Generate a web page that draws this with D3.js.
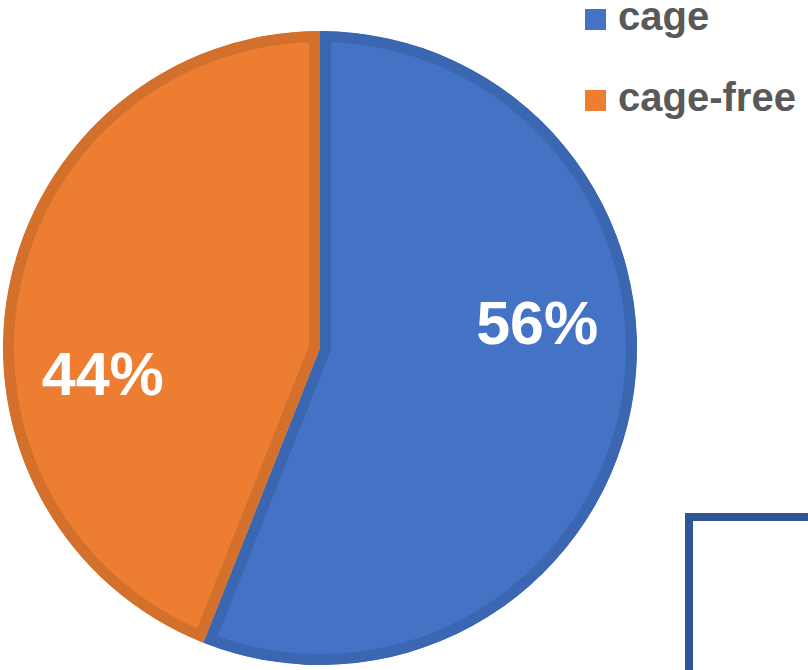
<!DOCTYPE html>
<html>
<head>
<meta charset="utf-8">
<script src="https://cdn.jsdelivr.net/npm/d3@7"></script>
<style>
  html, body { margin: 0; padding: 0; background: #fff; }
  svg { display: block; }
</style>
</head>
<body>
<div id="chart"></div>
<script>
// chart data
const categories = ["cage", "cage-free"];
const values = [56, 44];
const fills = ["#4472c4", "#ed7d31"];
const strokes = ["#3b66b2", "#d3702c"];

const width = 808, height = 670;
const cx = 320, cy = 348, radius = 317;

const svg = d3.select("#chart").append("svg")
    .attr("width", width)
    .attr("height", height);

const data = categories.map((c, i) => ({ name: c, value: values[i], i: i }));

const pie = d3.pie()
    .sort(null)
    .value(d => d.value);

const arc = d3.arc()
    .innerRadius(0)
    .outerRadius(radius);

const arcs = pie(data);

const defs = svg.append("defs");
defs.selectAll("clipPath")
    .data(arcs)
    .join("clipPath")
    .attr("id", (d, i) => "clip" + i)
    .append("path")
    .attr("d", arc);

const g = svg.append("g")
    .attr("transform", `translate(${cx},${cy})`);

// slices, stroke kept inside each slice with a clip
g.selectAll("path.slice")
    .data(arcs)
    .join("path")
    .attr("class", "slice")
    .attr("d", arc)
    .attr("fill", d => fills[d.data.i])
    .attr("stroke", d => strokes[d.data.i])
    .attr("stroke-width", 22)
    .attr("stroke-linejoin", "miter")
    .attr("clip-path", (d, i) => `url(#clip${i})`);

// percentage labels (placed a bit counter-clockwise of the slice middle, like the original)
const labelR = radius * 0.69;
const labelShift = -17.5 * Math.PI / 180;

g.selectAll("text.pct")
    .data(arcs)
    .join("text")
    .attr("class", "pct")
    .attr("transform", d => {
        const a = (d.startAngle + d.endAngle) / 2 + labelShift;
        return `translate(${labelR * Math.sin(a)},${-labelR * Math.cos(a)})`;
    })
    .attr("text-anchor", "middle")
    .attr("dy", "0.36em")
    .attr("fill", "#fff")
    .style("font-family", "'Liberation Sans', Arial, sans-serif")
    .style("font-weight", "bold")
    .style("font-size", "61px")
    .text(d => d.data.value + "%");

// legend
const legend = svg.append("g")
    .attr("transform", "translate(585,9)");

const row = legend.selectAll("g")
    .data(data)
    .join("g")
    .attr("transform", (d, i) => `translate(0,${i * 81})`);

row.append("rect")
    .attr("width", 21)
    .attr("height", 21)
    .attr("fill", d => fills[d.i]);

row.append("text")
    .attr("x", 33)
    .attr("y", 21)
    .attr("fill", "#595959")
    .style("font-family", "'Liberation Sans', Arial, sans-serif")
    .style("font-weight", "bold")
    .style("font-size", "40px")
    .text(d => d.name);

// partial frame in the bottom right corner
svg.append("path")
    .attr("d", "M689,672 L689,517 L812,517")
    .attr("fill", "none")
    .attr("stroke", "#2f5597")
    .attr("stroke-width", 8);
</script>
</body>
</html>
